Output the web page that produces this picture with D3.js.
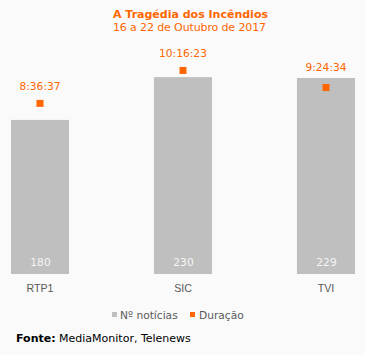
<!DOCTYPE html>
<html><head><meta charset="utf-8">
<script src="https://cdn.jsdelivr.net/npm/d3@7/dist/d3.min.js"></script>
<style>
html,body{margin:0;padding:0;background:#fafafa;}
svg{display:block;font-family:"DejaVu Sans",Verdana,sans-serif;}
</style></head>
<body>
<script>
const categories = ["RTP1", "SIC", "TVI"];
const noticias = [180, 230, 229];
const duracaoLabels = ["8:36:37", "10:16:23", "9:24:34"];
const title = "A Tragédia dos Incêndios";
const subtitle = "16 a 22 de Outubro de 2017";
const legendLabels = ["Nº notícias", "Duração"];

const toSec = s => { const [h,m,x] = s.split(":").map(Number); return h*3600+m*60+x; };
const duracao = duracaoLabels.map(toSec);

const W = 365, H = 355;
const orange = "#ff6600", grey = "#bfbfbf", txt = "#595959";
const fs = 10.67;

const svg = d3.select("body").append("svg").attr("width", W).attr("height", H);
svg.append("rect").attr("width", W).attr("height", H).attr("fill", "#fafafa");

const x = d3.scaleBand().domain(categories).range([-31.5, 397.5]).paddingInner(0.594).paddingOuter(0.297);
const y = d3.scaleLinear().domain([0, 250]).range([274, 60]);
const y2 = d3.scaleLinear().domain([0, 0.45 * 86400]).range([274, 60]);

svg.append("text").attr("x", 113).attr("y", 17.5)
  .attr("textLength", 155).attr("lengthAdjust", "spacing")
  .attr("fill", orange).attr("font-weight", "bold").attr("font-size", 11).text(title);
svg.append("text").attr("x", 113).attr("y", 30.5)
  .attr("textLength", 153).attr("lengthAdjust", "spacing")
  .attr("fill", orange).attr("font-size", 11).text(subtitle);

const g = svg.append("g");
g.selectAll("rect.bar").data(categories).join("rect").attr("class", "bar")
  .attr("x", d => x(d)).attr("width", x.bandwidth())
  .attr("y", (d, i) => y(noticias[i])).attr("height", (d, i) => y(0) - y(noticias[i]))
  .attr("fill", grey);

g.selectAll("text.val").data(categories).join("text").attr("class", "val")
  .attr("x", d => x(d) + x.bandwidth() / 2 + 0.5).attr("y", 266).attr("text-anchor", "middle")
  .attr("fill", "#f5f5f5").attr("font-size", fs).text((d, i) => noticias[i]);

const ms = 7;
g.selectAll("rect.mk").data(categories).join("rect").attr("class", "mk")
  .attr("x", d => x(d) + x.bandwidth() / 2 - ms / 2).attr("width", ms)
  .attr("y", (d, i) => y2(duracao[i]) - ms / 2).attr("height", ms).attr("fill", orange);

g.selectAll("text.dl").data(categories).join("text").attr("class", "dl")
  .attr("x", d => x(d) + x.bandwidth() / 2)
  .attr("y", (d, i) => y2(duracao[i]) - (i === 2 ? 17 : 13)).attr("text-anchor", "middle")
  .attr("fill", orange).attr("font-size", fs).text((d, i) => duracaoLabels[i]);

const xa = svg.append("g").attr("transform", "translate(0,274)")
  .call(d3.axisBottom(x).tickSize(0).tickPadding(10));
xa.select(".domain").remove();
xa.selectAll("text").attr("fill", txt).attr("font-size", fs).attr("font-family", null).attr("dy", "0.71em");

// legend
const lg = svg.append("g").attr("font-size", fs);
lg.append("rect").attr("x", 112).attr("y", 312).attr("width", 5).attr("height", 5).attr("fill", grey);
lg.append("text").attr("x", 120).attr("y", 318.5).attr("fill", txt).text(legendLabels[0]);
lg.append("rect").attr("x", 190).attr("y", 312).attr("width", 5).attr("height", 5).attr("fill", orange);
lg.append("text").attr("x", 199).attr("y", 318.5).attr("fill", txt).text(legendLabels[1]);

const src = svg.append("text").attr("x", 16).attr("y", 341.5).attr("font-size", 11).attr("fill", "#000");
src.append("tspan").attr("font-weight", "bold").text("Fonte:");
src.append("tspan").text(" MediaMonitor, Telenews");
</script>
</body></html>
